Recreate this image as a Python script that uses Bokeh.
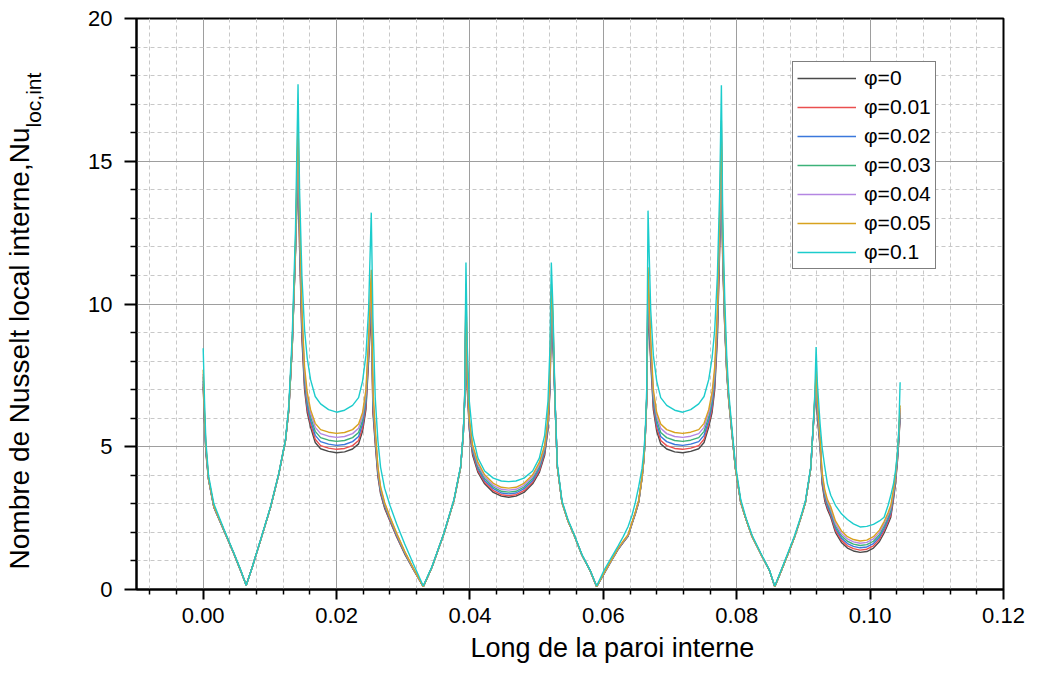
import math
from bokeh.plotting import figure
from bokeh.models import (Range1d, FixedTicker, NumeralTickFormatter, Legend,
                          LegendItem, Title)
from bokeh.embed import file_html
from bokeh.resources import INLINE

# ---------------- data ----------------
X = [
    # segment A
    0.0, 0.0002, 0.0004, 0.0008, 0.0016, 0.0031, 0.0046, 0.0056, 0.00645, 0.00735,
    0.0086, 0.0101, 0.01134, 0.01234, 0.01284, 0.01335, 0.01384, 0.01422,
    # segment B
    0.01445, 0.0148, 0.0152, 0.0156, 0.0161, 0.0168, 0.0176, 0.0188, 0.0200, 0.0212,
    0.0224, 0.0233, 0.0239, 0.0244, 0.0248, 0.0252,
    # segment C
    0.02545, 0.0258, 0.0262, 0.0266, 0.0272, 0.0280, 0.0290, 0.0302, 0.0315, 0.0330,
    0.0343, 0.0361, 0.0376, 0.0386, 0.0390, 0.0392, 0.0394,
    # segment D
    0.0396, 0.0399, 0.0404, 0.0412, 0.0422, 0.0435, 0.0447, 0.0458, 0.0469, 0.0481,
    0.0494, 0.0504, 0.0512, 0.0517, 0.0520, 0.0522,
    # segment E
    0.05245, 0.05275, 0.0531, 0.0538, 0.0547, 0.0557, 0.0568, 0.0580, 0.0590, 0.0601,
    0.0612, 0.0622, 0.0630, 0.0637, 0.0643, 0.0648, 0.0653, 0.0658, 0.0661, 0.0663,
    0.0665, 0.0667,
    # segment F
    0.0671, 0.0675, 0.0680, 0.0686, 0.0695, 0.0707, 0.0719, 0.0731, 0.0743, 0.0751,
    0.0758, 0.0763, 0.0767, 0.0771, 0.07745, 0.0777,
    # segment G
    0.0779, 0.0782, 0.0785, 0.0788, 0.0793, 0.0798, 0.0806, 0.0814, 0.0823, 0.0836,
    0.0849, 0.0857, 0.0867, 0.0877, 0.0887, 0.0896, 0.0903, 0.0908, 0.0911, 0.0914,
    0.0917, 0.0919,
    # segment H
    0.0921, 0.0925, 0.0928, 0.0932, 0.0936, 0.0941, 0.0948, 0.0957, 0.0966, 0.0975,
    0.0985, 0.0995, 0.1005, 0.1014, 0.1021, 0.1027, 0.1031, 0.1035, 0.1038, 0.1041,
    0.1043, 0.1045,
]

NU_PHI_0 = [
    7.1, 5.9, 4.8, 3.85, 2.88, 2.07, 1.25, 0.67, 0.15, 0.78, 1.72, 2.88, 4.05, 5.22, 6.3, 8.5, 11.8, 14.8,
    12.0, 8.8, 7.0, 6.2, 5.69, 5.15, 4.93, 4.84, 4.79, 4.82, 4.92, 5.10, 5.55, 6.3, 8.0, 9.8,
    6.2, 5.1, 3.95, 3.35, 2.85, 2.4, 1.85, 1.25, 0.7, 0.1, 0.78, 1.96, 3.12, 4.28, 5.45, 6.6, 9.6,
    7.0, 5.6, 4.7, 4.1, 3.7, 3.4, 3.27, 3.23, 3.27, 3.4, 3.7, 4.1, 4.7, 5.6, 7.0, 9.6,
    8.5, 6.6, 4.3, 3.05, 2.4, 1.86, 1.2, 0.67, 0.1, 0.55, 1.0, 1.4, 1.65, 1.86, 2.3, 2.65, 3.05, 3.9, 4.6, 5.43, 6.6, 9.9,
    8.0, 6.3, 5.55, 5.10, 4.92, 4.82, 4.79, 4.84, 4.93, 5.15, 5.69, 6.2, 7.0, 8.8, 12.0, 14.8,
    11.5, 9.2, 7.6, 6.6, 5.43, 4.24, 3.05, 2.45, 1.86, 1.25, 0.67, 0.1, 0.67, 1.25, 1.86, 2.5, 3.05, 3.8, 4.24, 5.43, 6.4, 7.0,
    6.0, 4.98, 3.70, 3.1, 2.8, 2.53, 2.0, 1.65, 1.45, 1.35, 1.30, 1.33, 1.45, 1.68, 1.98, 2.3, 2.53, 3.15, 3.70, 4.5, 5.2, 6.0,
]

NU_PHI_001 = [
    7.2, 5.95, 4.85, 3.86, 2.88, 2.07, 1.25, 0.67, 0.15, 0.78, 1.72, 2.88, 4.05, 5.22, 6.3, 8.5, 11.85, 15.1,
    12.2, 9.0, 7.15, 6.32, 5.8, 5.26, 5.04, 4.95, 4.91, 4.94, 5.04, 5.22, 5.66, 6.42, 8.15, 10.1,
    6.35, 5.2, 4.02, 3.4, 2.9, 2.43, 1.87, 1.27, 0.71, 0.1, 0.78, 1.96, 3.12, 4.28, 5.45, 6.6, 9.8,
    7.1, 5.68, 4.77, 4.16, 3.76, 3.46, 3.32, 3.29, 3.32, 3.46, 3.76, 4.16, 4.77, 5.68, 7.1, 9.8,
    8.7, 6.6, 4.3, 3.05, 2.4, 1.86, 1.2, 0.67, 0.1, 0.56, 1.01, 1.41, 1.66, 1.87, 2.31, 2.66, 3.06, 3.91, 4.61, 5.44, 6.62, 10.2,
    8.15, 6.42, 5.66, 5.22, 5.04, 4.94, 4.91, 4.95, 5.04, 5.26, 5.8, 6.32, 7.15, 9.0, 12.2, 15.1,
    11.6, 9.25, 7.65, 6.62, 5.44, 4.25, 3.05, 2.45, 1.86, 1.25, 0.67, 0.1, 0.67, 1.25, 1.86, 2.5, 3.05, 3.8, 4.24, 5.43, 6.5, 7.15,
    6.1, 5.05, 3.78, 3.18, 2.87, 2.6, 2.07, 1.72, 1.53, 1.43, 1.38, 1.41, 1.53, 1.76, 2.06, 2.38, 2.61, 3.22, 3.76, 4.55, 5.25, 6.1,
]

NU_PHI_002 = [
    7.3, 6.0, 4.9, 3.87, 2.89, 2.08, 1.25, 0.67, 0.15, 0.78, 1.72, 2.88, 4.05, 5.22, 6.32, 8.52, 11.9, 15.4,
    12.5, 9.2, 7.3, 6.45, 5.92, 5.4, 5.18, 5.09, 5.05, 5.08, 5.18, 5.36, 5.8, 6.56, 8.3, 10.4,
    6.5, 5.3, 4.1, 3.45, 2.94, 2.47, 1.9, 1.29, 0.72, 0.1, 0.78, 1.96, 3.12, 4.28, 5.45, 6.6, 10.0,
    7.2, 5.76, 4.84, 4.23, 3.82, 3.53, 3.38, 3.35, 3.38, 3.53, 3.82, 4.23, 4.84, 5.76, 7.2, 10.0,
    8.9, 6.6, 4.3, 3.05, 2.4, 1.86, 1.2, 0.67, 0.1, 0.56, 1.01, 1.42, 1.67, 1.88, 2.32, 2.68, 3.08, 3.92, 4.62, 5.46, 6.64, 10.5,
    8.3, 6.56, 5.8, 5.36, 5.18, 5.08, 5.05, 5.09, 5.18, 5.4, 5.92, 6.45, 7.3, 9.2, 12.5, 15.4,
    11.8, 9.3, 7.7, 6.64, 5.45, 4.26, 3.06, 2.45, 1.86, 1.25, 0.67, 0.1, 0.67, 1.25, 1.86, 2.5, 3.05, 3.8, 4.25, 5.44, 6.55, 7.3,
    6.2, 5.1, 3.86, 3.26, 2.94, 2.67, 2.15, 1.8, 1.61, 1.51, 1.46, 1.49, 1.61, 1.84, 2.14, 2.46, 2.69, 3.29, 3.83, 4.61, 5.3, 6.2,
]

NU_PHI_003 = [
    7.45, 6.05, 4.95, 3.88, 2.9, 2.08, 1.26, 0.67, 0.15, 0.78, 1.72, 2.88, 4.05, 5.22, 6.33, 8.55, 11.95, 15.7,
    12.7, 9.4, 7.45, 6.6, 6.05, 5.54, 5.32, 5.23, 5.19, 5.22, 5.32, 5.5, 5.94, 6.7, 8.45, 10.65,
    6.65, 5.4, 4.17, 3.5, 2.98, 2.5, 1.93, 1.31, 0.73, 0.1, 0.78, 1.96, 3.12, 4.28, 5.45, 6.6, 10.2,
    7.3, 5.84, 4.91, 4.3, 3.89, 3.59, 3.44, 3.41, 3.44, 3.59, 3.89, 4.3, 4.91, 5.84, 7.3, 10.2,
    9.1, 6.6, 4.3, 3.05, 2.4, 1.86, 1.2, 0.67, 0.1, 0.57, 1.02, 1.42, 1.68, 1.89, 2.33, 2.69, 3.09, 3.93, 4.63, 5.47, 6.66, 10.7,
    8.45, 6.7, 5.94, 5.5, 5.32, 5.22, 5.19, 5.23, 5.32, 5.54, 6.05, 6.6, 7.45, 9.4, 12.7, 15.7,
    11.9, 9.4, 7.72, 6.66, 5.46, 4.26, 3.06, 2.45, 1.86, 1.25, 0.67, 0.1, 0.67, 1.25, 1.86, 2.5, 3.05, 3.8, 4.25, 5.44, 6.6, 7.4,
    6.3, 5.15, 3.94, 3.34, 3.01, 2.75, 2.23, 1.88, 1.69, 1.59, 1.54, 1.57, 1.69, 1.92, 2.22, 2.54, 2.77, 3.36, 3.89, 4.67, 5.35, 6.28,
]

NU_PHI_004 = [
    7.55, 6.1, 5.0, 3.89, 2.91, 2.09, 1.26, 0.68, 0.15, 0.78, 1.72, 2.88, 4.05, 5.22, 6.34, 8.57, 12.0, 16.1,
    12.9, 9.6, 7.6, 6.75, 6.18, 5.68, 5.46, 5.37, 5.33, 5.36, 5.46, 5.65, 6.07, 6.85, 8.6, 10.9,
    6.8, 5.5, 4.24, 3.55, 3.02, 2.53, 1.95, 1.33, 0.74, 0.1, 0.78, 1.96, 3.12, 4.28, 5.45, 6.6, 10.45,
    7.45, 5.92, 4.98, 4.37, 3.95, 3.65, 3.51, 3.48, 3.51, 3.65, 3.95, 4.37, 4.98, 5.92, 7.45, 10.45,
    9.3, 6.6, 4.3, 3.05, 2.4, 1.86, 1.2, 0.67, 0.1, 0.57, 1.02, 1.43, 1.69, 1.9, 2.34, 2.7, 3.1, 3.94, 4.64, 5.48, 6.68, 11.0,
    8.6, 6.85, 6.07, 5.65, 5.46, 5.36, 5.33, 5.37, 5.46, 5.68, 6.18, 6.75, 7.6, 9.6, 12.9, 16.1,
    12.1, 9.5, 7.75, 6.68, 5.48, 4.27, 3.06, 2.45, 1.86, 1.25, 0.67, 0.1, 0.67, 1.25, 1.86, 2.5, 3.05, 3.8, 4.25, 5.45, 6.65, 7.5,
    6.45, 5.22, 4.02, 3.42, 3.08, 2.82, 2.31, 1.96, 1.77, 1.67, 1.62, 1.65, 1.77, 2.0, 2.3, 2.62, 2.86, 3.43, 3.95, 4.73, 5.42, 6.35,
]

NU_PHI_005 = [
    7.7, 6.15, 5.05, 3.9, 2.92, 2.09, 1.26, 0.68, 0.15, 0.78, 1.72, 2.88, 4.05, 5.22, 6.35, 8.6, 12.1, 16.5,
    13.2, 9.8, 7.8, 6.9, 6.3, 5.82, 5.6, 5.51, 5.47, 5.50, 5.6, 5.8, 6.2, 7.0, 8.8, 11.2,
    7.0, 5.6, 4.3, 3.6, 3.05, 2.55, 1.98, 1.35, 0.75, 0.1, 0.78, 1.96, 3.12, 4.28, 5.45, 6.6, 10.7,
    7.6, 6.0, 5.05, 4.45, 4.02, 3.72, 3.58, 3.55, 3.58, 3.72, 4.02, 4.45, 5.05, 6.0, 7.6, 10.7,
    9.5, 6.6, 4.3, 3.05, 2.4, 1.86, 1.2, 0.67, 0.1, 0.58, 1.03, 1.44, 1.7, 1.92, 2.35, 2.72, 3.12, 3.95, 4.65, 5.5, 6.7, 11.29,
    8.8, 7.0, 6.2, 5.8, 5.6, 5.50, 5.47, 5.51, 5.6, 5.82, 6.3, 6.9, 7.8, 9.8, 13.2, 16.43,
    12.3, 9.6, 7.8, 6.7, 5.5, 4.28, 3.07, 2.45, 1.86, 1.25, 0.67, 0.1, 0.67, 1.25, 1.86, 2.5, 3.05, 3.8, 4.26, 5.45, 6.7, 7.67,
    6.6, 5.3, 4.1, 3.5, 3.15, 2.9, 2.4, 2.05, 1.85, 1.75, 1.70, 1.73, 1.85, 2.08, 2.38, 2.7, 2.95, 3.5, 4.0, 4.8, 5.5, 6.45,
]

NU_PHI_01 = [
    8.45, 6.6, 5.2, 4.0, 3.0, 2.12, 1.28, 0.7, 0.15, 0.78, 1.74, 2.9, 4.07, 5.25, 6.45, 8.9, 12.6, 17.7,
    14.0, 11.0, 9.1, 8.1, 7.35, 6.76, 6.5, 6.3, 6.21, 6.28, 6.45, 6.72, 7.3, 8.2, 9.8, 13.2,
    9.5, 6.7, 5.2, 4.28, 3.55, 2.95, 2.3, 1.6, 0.9, 0.12, 0.8, 1.98, 3.15, 4.32, 5.5, 6.7, 11.45,
    8.5, 6.6, 5.4, 4.6, 4.15, 3.9, 3.80, 3.78, 3.80, 3.9, 4.15, 4.6, 5.4, 6.6, 8.5, 11.45,
    9.8, 6.7, 4.4, 3.1, 2.45, 1.88, 1.22, 0.68, 0.12, 0.67, 1.12, 1.52, 1.86, 2.2, 2.6, 3.05, 3.6, 4.24, 4.9, 5.6, 7.0, 13.27,
    9.8, 8.2, 7.3, 6.72, 6.45, 6.28, 6.21, 6.3, 6.5, 6.76, 7.35, 8.1, 9.1, 11.0, 14.0, 17.66,
    13.0, 10.2, 8.2, 6.9, 5.6, 4.4, 3.15, 2.5, 1.9, 1.28, 0.68, 0.12, 0.7, 1.3, 1.9, 2.55, 3.1, 3.85, 4.3, 5.5, 6.8, 8.49,
    7.2, 5.8, 4.98, 4.3, 3.70, 3.3, 2.95, 2.65, 2.45, 2.3, 2.19, 2.21, 2.28, 2.4, 2.53, 2.95, 3.3, 3.70, 4.15, 4.8, 5.6, 7.26,
]

LABELS = ["φ=0", "φ=0.01", "φ=0.02", "φ=0.03", "φ=0.04", "φ=0.05", "φ=0.1"]
SERIES = [NU_PHI_0, NU_PHI_001, NU_PHI_002, NU_PHI_003, NU_PHI_004, NU_PHI_005, NU_PHI_01]
COLORS = ["#4a4a4a", "#ea4f4f", "#3b78dc", "#3cb279", "#b486e2", "#d8a21e", "#1ccccc"]

X_MAJOR = [0.0, 0.02, 0.04, 0.06, 0.08, 0.10, 0.12]
Y_MAJOR = [0, 5, 10, 15, 20]

X_TITLE = "Long de la paroi interne"
Y_TITLE = "Nombre de Nusselt local interne,Nu"
Y_TITLE_SUB = "loc,int"

for s in SERIES:
    assert len(s) == len(X), (len(s), len(X))

# ---------------- layout ----------------
FONT = "Liberation Sans"
FW, FH = 867, 571
LEFT, TOP = 136, 18

p = figure(frame_width=FW, frame_height=FH,
           x_range=Range1d(-0.01, 0.12), y_range=Range1d(0, 20),
           output_backend="svg", toolbar_location=None,
           min_border_left=LEFT, min_border_top=TOP,
           min_border_right=26, min_border_bottom=84,
           background_fill_color="white", border_fill_color="white")
p.outline_line_color = "black"
p.outline_line_width = 2

x_minor = []
for i in range(32):
    v = round(-0.008 + 0.004 * i, 4)
    if all(abs(v - m) > 1e-6 for m in X_MAJOR):
        x_minor.append(v)
y_minor = [v for v in range(0, 21) if v % 5 != 0]
xt = FixedTicker(ticks=X_MAJOR, minor_ticks=x_minor)
yt = FixedTicker(ticks=Y_MAJOR, minor_ticks=y_minor)
p.xaxis.ticker = xt
p.yaxis.ticker = yt
p.xgrid.ticker = xt
p.ygrid.ticker = yt
p.xaxis.formatter = NumeralTickFormatter(format="0.00")

for g in (p.xgrid[0], p.ygrid[0]):
    g.grid_line_color = "#9e9e9e"
    g.grid_line_width = 1
    g.minor_grid_line_color = "#c8c8c8"
    g.minor_grid_line_width = 1
    g.minor_grid_line_dash = "4 3"

for ax in (p.xaxis[0], p.yaxis[0]):
    ax.axis_line_color = "black"
    ax.axis_line_width = 2
    ax.major_tick_line_color = "black"
    ax.major_tick_line_width = 2
    ax.minor_tick_line_color = "black"
    ax.minor_tick_line_width = 1.5
    ax.major_tick_in = 0
    ax.minor_tick_in = 0
    ax.major_label_text_font = FONT
    ax.major_label_text_font_size = "22px"
    ax.major_label_text_color = "black"

p.xaxis.major_tick_out = 10
p.xaxis.minor_tick_out = 5
p.xaxis.major_label_standoff = 8
p.yaxis.major_tick_out = 12
p.yaxis.minor_tick_out = 6
p.yaxis.major_label_standoff = 12
# invisible spacer label that widens the y-axis panel
p.yaxis.axis_label = " "
p.yaxis.axis_label_text_font_size = "1px"
p.yaxis.axis_label_standoff = 36

items = []
for lab, ys, col in zip(LABELS, SERIES, COLORS):
    r = p.line(X, ys, line_color=col, line_width=1.4)
    items.append(LegendItem(label=lab, renderers=[r]))

legend = Legend(items=items, location=(656, 320),
                label_text_font=FONT, label_text_font_size="21px",
                label_text_color="black",
                glyph_width=59, glyph_height=20, label_height=20,
                label_standoff=8, spacing=5, padding=4, margin=0,
                border_line_color="black", border_line_width=1,
                background_fill_color="white", background_fill_alpha=1)
p.add_layout(legend)


def make_title(text, size, align, offset, standoff, valign):
    try:
        return Title(text=text, align=align, offset=offset, standoff=standoff,
                     vertical_align=valign, text_font=FONT, text_font_size=size,
                     text_font_style="normal", text_color="black")
    except Exception:
        return Title(text=text, align=align, offset=offset, standoff=0,
                     vertical_align=valign, text_font=FONT, text_font_size=size,
                     text_font_style="normal", text_color="black")


# y title: subscript next to the axis, main text outside it
p.add_layout(make_title(Y_TITLE_SUB, "21px", "left", 589 - 127, 0, "bottom"), "left")
p.add_layout(make_title(Y_TITLE, "28px", "right", 127 - 18, -30, "bottom"), "left")
# x title
p.add_layout(make_title(X_TITLE, "27px", "left", 334, 10, "bottom"), "below")

open("out.html", "w").write(file_html(p, INLINE))
